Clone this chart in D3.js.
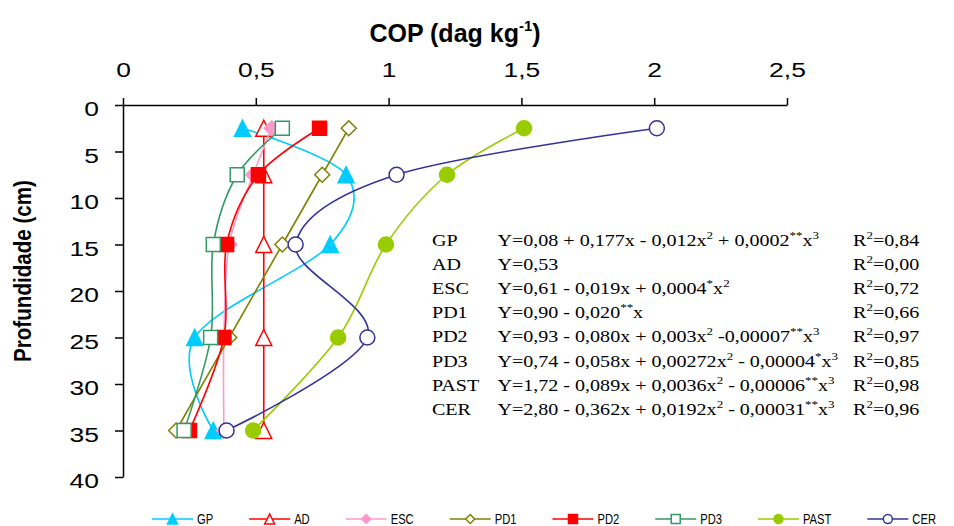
<!DOCTYPE html>
<html>
<head>
<meta charset="utf-8">
<script src="https://cdn.jsdelivr.net/npm/d3@7"></script>
<style>
  body { margin: 0; background: #fff; }
  svg { display: block; }
  text { white-space: pre; }
</style>
</head>
<body>
<svg id="chart" width="954" height="526"></svg>
<script>
// ------------------------------------------------------------
// DATA
// ------------------------------------------------------------
const depths = [2.5, 7.5, 15, 25, 35];

const gpValues   = [0.45, 0.84, 0.78, 0.27, 0.34];
const adValues   = [0.53, 0.53, 0.53, 0.53, 0.53];
const escValues  = [0.56, 0.49, 0.40, 0.38, 0.38];
const pd1Values  = [0.85, 0.75, 0.60, 0.40, 0.20];
const pd2Values  = [0.74, 0.51, 0.39, 0.38, 0.25];
const pd3Values  = [0.60, 0.43, 0.34, 0.33, 0.23];
const pastValues = [1.51, 1.22, 0.99, 0.81, 0.49];
const cerValues  = [2.01, 1.03, 0.65, 0.92, 0.39];

const xTicks = [0, 0.5, 1, 1.5, 2, 2.5];
const yTicks = [0, 5, 10, 15, 20, 25, 30, 35, 40];

const eqLabels = ["GP", "AD", "ESC", "PD1", "PD2", "PD3", "PAST", "CER"];
const eqTexts = [
    "Y=0,08 + 0,177x - 0,012x^{2} + 0,0002^{**}x^{3}",
    "Y=0,53",
    "Y=0,61 - 0,019x + 0,0004^{*}x^{2}",
    "Y=0,90 - 0,020^{**}x",
    "Y=0,93 - 0,080x + 0,003x^{2} -0,00007^{**}x^{3}",
    "Y=0,74 - 0,058x + 0,00272x^{2} - 0,00004^{*}x^{3}",
    "Y=1,72 - 0,089x + 0,0036x^{2} - 0,00006^{**}x^{3}",
    "Y=2,80 - 0,362x + 0,0192x^{2} - 0,00031^{**}x^{3}"
];
const r2Values = ["0,84", "0,00", "0,72", "0,66", "0,97", "0,85", "0,98", "0,96"];

// series styling
const series = [
    { name: "GP",   values: gpValues,   color: "#00CCFF", marker: "triangle", filled: true },
    { name: "AD",   values: adValues,   color: "#FF0000", marker: "triangle", filled: false },
    { name: "ESC",  values: escValues,  color: "#FF99CC", marker: "diamond",  filled: true },
    { name: "PD1",  values: pd1Values,  color: "#808000", marker: "diamond",  filled: false },
    { name: "PD2",  values: pd2Values,  color: "#FF0000", marker: "square",   filled: true },
    { name: "PD3",  values: pd3Values,  color: "#339966", marker: "square",   filled: false },
    { name: "PAST", values: pastValues, color: "#99CC00", marker: "circle",   filled: true },
    { name: "CER",  values: cerValues,  color: "#333399", marker: "circle",   filled: false }
];

// ------------------------------------------------------------
// LAYOUT
// ------------------------------------------------------------
const svg = d3.select("#chart");
const W = 954, H = 526;
const margin = { top: 105, left: 123, right: 167, bottom: 49 };

const x = d3.scaleLinear().domain([0, 2.5]).range([margin.left, W - margin.right]);
const y = d3.scaleLinear().domain([0, 40]).range([margin.top, H - margin.bottom]);

const sans = "'Liberation Sans', Arial, sans-serif";
const serif = "'Liberation Serif', 'Times New Roman', serif";
const comma = d => String(d).replace(".", ",");

// marker path generator, centred on (0,0)
function markerPath(type, s) {
    const h = s / 2;
    if (type === "triangle") return `M0,${-h}L${h},${h}L${-h},${h}Z`;
    if (type === "diamond")  return `M0,${-h}L${h},0L0,${h}L${-h},0Z`;
    return `M${-h},${-h}H${h}V${h}H${-h}Z`;
}
function drawMarker(g, s, type, size) {
    const fill = s.filled ? s.color : "#fff";
    if (type === "circle") {
        return g.append("circle").attr("r", size / 2)
            .attr("fill", fill).attr("stroke", s.color).attr("stroke-width", 1.5);
    }
    return g.append("path").attr("d", markerPath(type, size))
        .attr("fill", fill).attr("stroke", s.color).attr("stroke-width", 1.5);
}
const markerSize = { triangle: 16, diamond: 15, square: 14, circle: 15 };

// ------------------------------------------------------------
// AXES
// ------------------------------------------------------------
const xAxis = svg.append("g")
    .attr("transform", `translate(0,${margin.top})`)
    .call(d3.axisTop(x).tickValues(xTicks).tickFormat(comma)
        .tickSize(7).tickSizeOuter(0).tickPadding(21));

const yAxis = svg.append("g")
    .attr("transform", `translate(${margin.left},0)`)
    .call(d3.axisLeft(y).tickValues(yTicks).tickFormat(comma)
        .tickSize(8).tickSizeOuter(0).tickPadding(16));

[xAxis, yAxis].forEach(a => {
    a.select(".domain").attr("stroke", "#000").attr("stroke-width", 1.5);
    a.selectAll(".tick line").attr("stroke", "#000").attr("stroke-width", 1.5);
    a.selectAll(".tick text")
        .attr("fill", "#000")
        .attr("font-family", sans)
        .attr("font-size", 21);
});
// tick labels look horizontally stretched in the original
xAxis.selectAll(".tick text").attr("transform", "scale(1.26,1)");
yAxis.selectAll(".tick text")
    .attr("x", -24 / 1.26)
    .attr("dy", "0.5em")
    .attr("transform", "scale(1.26,1)");

// axis titles
const title = svg.append("text")
    .attr("x", 455).attr("y", 42)
    .attr("text-anchor", "middle")
    .attr("font-family", sans).attr("font-size", 25).attr("font-weight", "bold");
title.append("tspan").text("COP (dag kg");
title.append("tspan").attr("font-size", 15).attr("dy", -11).text("-1");
title.append("tspan").attr("dy", 11).text(")");

svg.append("text")
    .attr("transform", "translate(31,271) rotate(-90) scale(1,1.2)")
    .attr("text-anchor", "middle")
    .attr("font-family", sans).attr("font-size", 20.6).attr("font-weight", "bold")
    .text("Profundidade (cm)");

// ------------------------------------------------------------
// SERIES (smoothed lines + markers, in legend order)
// ------------------------------------------------------------
const line = d3.line()
    .x(d => x(d.v))
    .y(d => y(d.depth))
    .curve(d3.curveCatmullRom.alpha(0));

const seriesG = svg.append("g").attr("class", "series");

series.forEach(s => {
    const pts = depths.map((depth, i) => ({ depth, v: s.values[i] }));
    const g = seriesG.append("g").attr("class", "s-" + s.name);

    g.append("path")
        .datum(pts)
        .attr("d", line)
        .attr("fill", "none")
        .attr("stroke", s.color)
        .attr("stroke-width", 1.6);

    g.selectAll("g.pt")
        .data(pts)
        .join("g")
        .attr("class", "pt")
        .attr("transform", d => `translate(${x(d.v)},${y(d.depth)})`)
        .each(function () {
            drawMarker(d3.select(this), s, s.marker, markerSize[s.marker]);
        });
});

// ------------------------------------------------------------
// EQUATIONS
// ------------------------------------------------------------
function richText(textSel, str, supSize, rise) {
    let shifted = false;
    str.split(/(\^\{[^}]*\})/).filter(p => p.length).forEach(p => {
        const isSup = p.startsWith("^{");
        const t = textSel.append("tspan").text(isSup ? p.slice(2, -1) : p);
        if (isSup) {
            t.attr("font-size", supSize);
            if (!shifted) t.attr("dy", -rise);
            shifted = true;
        } else if (shifted) {
            t.attr("dy", rise);
            shifted = false;
        }
    });
}

const eqG = svg.append("g")
    .attr("font-family", serif)
    .attr("font-size", 17)
    .attr("fill", "#000");

const eqStretch = 1.18;
eqLabels.forEach((lab, i) => {
    const by = 246 + i * 24.1;
    eqG.append("text")
        .attr("transform", `translate(432,${by}) scale(${eqStretch},1)`)
        .text(lab);
    const t = eqG.append("text")
        .attr("transform", `translate(497.5,${by}) scale(${eqStretch},1)`);
    richText(t, eqTexts[i], 11, 7);
    const r = eqG.append("text")
        .attr("transform", `translate(853,${by}) scale(${eqStretch},1)`);
    richText(r, "R^{2}=" + r2Values[i], 11, 7);
});

// ------------------------------------------------------------
// LEGEND
// ------------------------------------------------------------
const legend = svg.append("g").attr("class", "legend");
const legY = 519;
const legScale = 0.8;
let lx = 152;
series.forEach(s => {
    const item = legend.append("g").attr("transform", `translate(${lx},${legY})`);
    item.append("line")
        .attr("x1", 0).attr("x2", 41)
        .attr("stroke", s.color).attr("stroke-width", 1.6);
    const m = item.append("g").attr("transform", "translate(20.5,0)");
    drawMarker(m, s, s.marker, s.marker === "triangle" ? 10 : 9);
    const txt = item.append("text")
        .attr("transform", `translate(45,4.5) scale(${legScale},1)`)
        .attr("font-family", sans).attr("font-size", 14).attr("fill", "#000")
        .text(s.name);
    const tw = txt.node().getComputedTextLength() * legScale;
    lx += 45 + tw + 36;
});
</script>
</body>
</html>
